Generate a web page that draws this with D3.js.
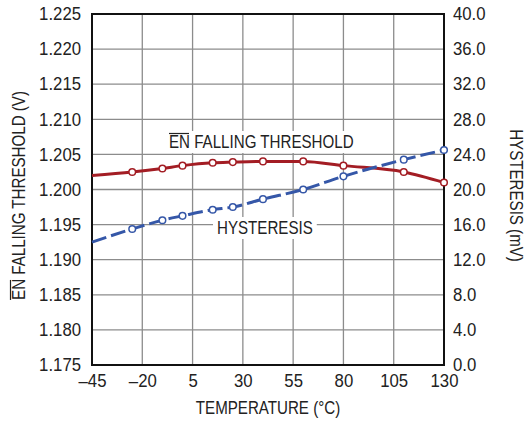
<!DOCTYPE html>
<html><head><meta charset="utf-8">
<script src="https://cdn.jsdelivr.net/npm/d3@7"></script>
<style>
body{margin:0;background:#fff;}
text{font-family:"Liberation Sans",Arial,sans-serif;fill:#222;}
</style></head>
<body><svg id="c" width="531" height="423"></svg>
<script>
const temps = [-45, -25, -10, 0, 15, 25, 40, 60, 80, 110, 130];
const threshold = [1.2020, 1.2025, 1.2030, 1.2034, 1.2038, 1.2039, 1.2040, 1.2040, 1.2034, 1.2025, 1.2010];
const hysteresis = [14.0, 15.5, 16.5, 17.0, 17.7, 18.0, 18.9, 20.0, 21.5, 23.4, 24.5];
const xTicks = [-45, -20, 5, 30, 55, 80, 105, 130];
const yLeftTicks = [1.175, 1.180, 1.185, 1.190, 1.195, 1.200, 1.205, 1.210, 1.215, 1.220, 1.225];
const yRightTicks = [0, 4, 8, 12, 16, 20, 24, 28, 32, 36, 40];

const W = 531, H = 423;
const m = {l: 92, r: 87, t: 14, b: 58};
const svg = d3.select("#c");
const x = d3.scaleLinear().domain([-45, 130]).range([m.l, W - m.r]);
const yL = d3.scaleLinear().domain([1.175, 1.225]).range([H - m.b, m.t]);
const yR = d3.scaleLinear().domain([0, 40]).range([H - m.b, m.t]);
const fs = 18;
const NUM = 0.93, WORD = 0.84;

function squeeze(sel, f) {
  sel.each(function () {
    const w = this.getComputedTextLength();
    d3.select(this).attr("textLength", w * f).attr("lengthAdjust", "spacingAndGlyphs");
  });
}

// grid
const g = svg.append("g");
g.selectAll(".vx").data(xTicks).enter().append("line")
  .attr("x1", d => x(d)).attr("x2", d => x(d)).attr("y1", m.t).attr("y2", H - m.b)
  .attr("stroke", "#8c8c8c").attr("stroke-width", 1.3);
g.selectAll(".hy").data(yLeftTicks).enter().append("line")
  .attr("x1", m.l).attr("x2", W - m.r).attr("y1", d => yL(d)).attr("y2", d => yL(d))
  .attr("stroke", "#8c8c8c").attr("stroke-width", 1.3);

// axes
const fmtX = d => (d < 0 ? "\u2013" + Math.abs(d) : "" + d);
const axB = svg.append("g").attr("transform", `translate(0,${H - m.b})`)
  .call(d3.axisBottom(x).tickValues(xTicks).tickFormat(fmtX).tickSize(0).tickPadding(9));
const axL = svg.append("g").attr("transform", `translate(${m.l},0)`)
  .call(d3.axisLeft(yL).tickValues(yLeftTicks).tickFormat(d3.format(".3f")).tickSize(0).tickPadding(11));
const axR = svg.append("g").attr("transform", `translate(${W - m.r},0)`)
  .call(d3.axisRight(yR).tickValues(yRightTicks).tickFormat(d3.format(".1f")).tickSize(0).tickPadding(9));
[axB, axL, axR].forEach(a => {
  a.select(".domain").remove();
  a.attr("font-family", null).attr("font-size", null);
  const t = a.selectAll("text").style("font-size", fs + "px").attr("fill", "#222");
  squeeze(t, NUM);
});

// frame
svg.append("rect").attr("x", m.l).attr("y", m.t).attr("width", W - m.l - m.r).attr("height", H - m.t - m.b)
  .attr("fill", "none").attr("stroke", "#111").attr("stroke-width", 2);

// in-plot labels with white backgrounds
function label(tx, ty, str) {
  const grp = svg.append("g");
  const bg = grp.append("rect").attr("fill", "#fff");
  const t = grp.append("text").attr("x", tx).attr("y", ty).style("font-size", fs + "px").text(str);
  const sub = t.node().getSubStringLength(0, 2) * WORD;
  squeeze(t, WORD);
  const bb = t.node().getBBox();
  bg.attr("x", bb.x - 4).attr("y", bb.y - 1).attr("width", bb.width + 8).attr("height", bb.height + 2);
  return sub;
}
const enW = label(169, 148, "EN FALLING THRESHOLD");
svg.append("line").attr("x1", 169).attr("x2", 169 + enW - 1).attr("y1", 133.5).attr("y2", 133.5)
  .attr("stroke", "#222").attr("stroke-width", 1.2);
label(217, 234, "HYSTERESIS");

// series
const ptsT = temps.map((t, i) => [t, threshold[i]]);
const ptsH = temps.map((t, i) => [t, hysteresis[i]]);
const lineT = d3.line().x(d => x(d[0])).y(d => yL(d[1])).curve(d3.curveMonotoneX);
const lineH = d3.line().x(d => x(d[0])).y(d => yR(d[1])).curve(d3.curveMonotoneX);
const red = "#a31d24", blue = "#3557a8";
svg.append("path").datum(ptsT).attr("d", lineT).attr("fill", "none").attr("stroke", red).attr("stroke-width", 3);
svg.append("path").datum(ptsH).attr("d", lineH).attr("fill", "none").attr("stroke", blue).attr("stroke-width", 3)
  .attr("stroke-dasharray", "15,5");
svg.selectAll(".mt").data(ptsT.slice(1)).enter().append("circle")
  .attr("cx", d => x(d[0])).attr("cy", d => yL(d[1])).attr("r", 3.3)
  .attr("fill", "#fff").attr("stroke", red).attr("stroke-width", 1.5);
svg.selectAll(".mh").data(ptsH.slice(1)).enter().append("circle")
  .attr("cx", d => x(d[0])).attr("cy", d => yR(d[1])).attr("r", 3.3)
  .attr("fill", "#fff").attr("stroke", blue).attr("stroke-width", 1.5);

// axis titles
const xt = svg.append("text").attr("x", (m.l + W - m.r) / 2).attr("y", 414).attr("text-anchor", "middle")
  .style("font-size", fs + "px").text("TEMPERATURE (°C)");
squeeze(xt, WORD);
const cy = (m.t + H - m.b) / 2 + 6;
const lTitle = svg.append("text").attr("transform", `translate(25,${cy}) rotate(-90)`)
  .attr("text-anchor", "middle").style("font-size", fs + "px").text("EN FALLING THRESHOLD (V)");
{
  const total = lTitle.node().getComputedTextLength() * WORD;
  const w = lTitle.node().getSubStringLength(0, 2) * WORD;
  squeeze(lTitle, WORD);
  svg.append("line").attr("x1", 10.5).attr("x2", 10.5)
    .attr("y1", cy + total / 2).attr("y2", cy + total / 2 - w + 1)
    .attr("stroke", "#222").attr("stroke-width", 1.2);
}
const rt = svg.append("text").attr("transform", `translate(510,${cy}) rotate(90)`)
  .attr("text-anchor", "middle").style("font-size", fs + "px").text("HYSTERESIS (mV)");
squeeze(rt, WORD);
</script></body></html>
